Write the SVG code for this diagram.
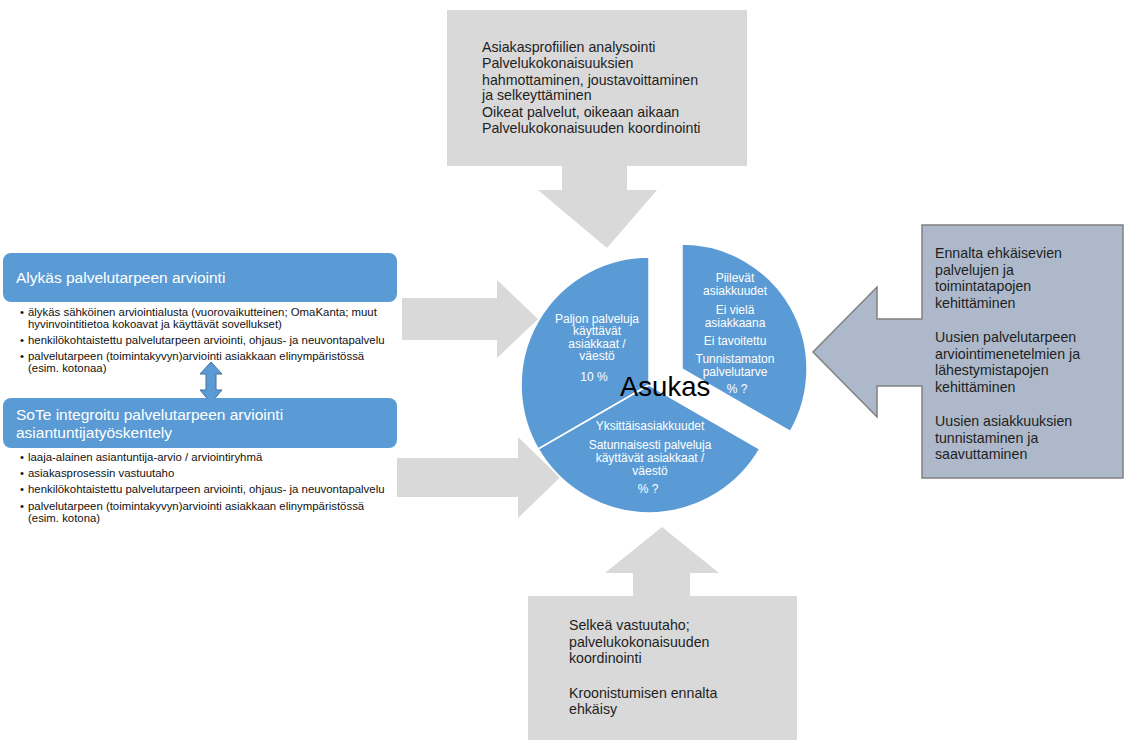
<svg xmlns="http://www.w3.org/2000/svg" width="1124" height="740" viewBox="0 0 1124 740">
<style>
.gray{fill:#D9D9D9}
.blue{fill:#5B9BD5}
.slice{fill:#5B9BD5;stroke:#fff;stroke-width:1.5}
.pt{font-family:"Liberation Sans",Arial,sans-serif;font-size:12px;fill:#fff;text-anchor:middle}
.bt{font-family:"Liberation Sans",Arial,sans-serif;font-size:14.2px;fill:#1e1e1e}
.ht{font-family:"Liberation Sans",Arial,sans-serif;font-size:15.5px;fill:#fff}
.st{font-family:"Liberation Sans",Arial,sans-serif;font-size:11.4px;fill:#111}
</style>
<rect width="1124" height="740" fill="#fff"/>
<g id="connectors">
<path class="gray" d="M402 298 H497 V280 L538 319 L497 358 V340 H402 Z"/>
<path class="gray" d="M397 458 H518 V437 L560 477.5 L518 518 V497 H397 Z"/>
<path d="M211 362 L222 374 H216 V390 H222 L211 403 L200 390 H206 V374 H200 Z" fill="#5B9BD5" stroke="#41719C" stroke-width="1"/>
</g>
<g id="top-box">
<path class="gray" d="M447 10 H747 V166 H627 V190 H657 L607 248 L538 190 H562 V166 H447 Z"/>
<text class="bt"><tspan x="482" y="52">Asiakasprofiilien analysointi</tspan><tspan x="482" y="68">Palvelukokonaisuuksien</tspan><tspan x="482" y="84.5">hahmottaminen, joustavoittaminen</tspan><tspan x="482" y="100">ja selkeyttäminen</tspan><tspan x="482" y="117">Oikeat palvelut, oikeaan aikaan</tspan><tspan x="482" y="133">Palvelukokonaisuuden koordinointi</tspan></text>
</g>
<g id="right-box">
<path d="M922 225 H1123 V478 H922 V386 H877 V417 L813 352 L877 287 V319 H922 Z" fill="#ADB9CA" stroke="#808080" stroke-width="1.5"/>
<text class="bt"><tspan x="935" y="258">Ennalta ehkäisevien</tspan><tspan x="935" y="274.5">palvelujen ja</tspan><tspan x="935" y="291">toimintatapojen</tspan><tspan x="935" y="307.5">kehittäminen</tspan><tspan x="935" y="342">Uusien palvelutarpeen</tspan><tspan x="935" y="358.5">arviointimenetelmien ja</tspan><tspan x="935" y="375">lähestymistapojen</tspan><tspan x="935" y="391.5">kehittäminen</tspan><tspan x="935" y="426">Uusien asiakkuuksien</tspan><tspan x="935" y="442.5">tunnistaminen ja</tspan><tspan x="935" y="459">saavuttaminen</tspan></text>
</g>
<g id="bottom-box">
<path class="gray" d="M528 596 H633 V573 H605 L662 527 L719 573 H690 V596 H797 V740 H528 Z"/>
<text class="bt"><tspan x="569" y="630">Selkeä vastuutaho;</tspan><tspan x="569" y="646.5">palvelukokonaisuuden</tspan><tspan x="569" y="663">koordinointi</tspan><tspan x="569" y="697.5">Kroonistumisen ennalta</tspan><tspan x="569" y="714">ehkäisy</tspan></text>
</g>
<g id="pie">
<path class="slice" d="M649 385 V257 A128 128 0 0 0 538.2 449 Z"/>
<path class="slice" d="M649 385 L538.2 449 A128 128 0 0 0 759.8 449 Z"/>
<path class="slice" d="M682 369 V244 A125 125 0 0 1 790.3 431.5 Z"/>
<text class="pt"><tspan x="597" y="323">Paljon palveluja</tspan><tspan x="597" y="335">käyttävät</tspan><tspan x="597" y="347.5">asiakkaat /</tspan><tspan x="597" y="360">väestö</tspan><tspan x="594" y="381">10 %</tspan></text>
<text class="pt"><tspan x="735" y="282">Piilevät</tspan><tspan x="735" y="295">asiakkuudet</tspan><tspan x="735" y="314">Ei vielä</tspan><tspan x="735" y="327">asiakkaana</tspan><tspan x="735" y="345">Ei tavoitettu</tspan><tspan x="735" y="363">Tunnistamaton</tspan><tspan x="735" y="375.5">palvelutarve</tspan><tspan x="737" y="393">% ?</tspan></text>
<text class="pt"><tspan x="650" y="430">Yksittäisasiakkuudet</tspan><tspan x="650" y="449">Satunnaisesti palveluja</tspan><tspan x="650" y="462">käyttävät asiakkaat /</tspan><tspan x="650" y="475">väestö</tspan><tspan x="648" y="493">% ?</tspan></text>
<text x="620" y="396" font-family="'Liberation Sans',Arial,sans-serif" font-size="27.5px" fill="#000">Asukas</text>
</g>
<g id="box-alykas">
<rect class="blue" x="3" y="253" width="394" height="49" rx="8"/>
<text class="ht" x="16" y="283">Alykäs palvelutarpeen arviointi</text>
<text class="st"><tspan x="20" y="316">•</tspan><tspan x="28" y="316">älykäs sähköinen arviointialusta (vuorovaikutteinen; OmaKanta; muut</tspan><tspan x="28" y="327.5">hyvinvointitietoa kokoavat ja käyttävät sovellukset)</tspan><tspan x="20" y="344">•</tspan><tspan x="28" y="344">henkilökohtaistettu palvelutarpeen arviointi, ohjaus- ja neuvontapalvelu</tspan><tspan x="20" y="360">•</tspan><tspan x="28" y="360">palvelutarpeen (toimintakyvyn)arviointi asiakkaan elinympäristössä</tspan><tspan x="28" y="372">(esim. kotonaa)</tspan></text>
</g>
<g id="box-sote">
<rect class="blue" x="3" y="398" width="394" height="50" rx="8"/>
<text class="ht"><tspan x="16" y="420">SoTe integroitu palvelutarpeen arviointi</tspan><tspan x="16" y="438">asiantuntijatyöskentely</tspan></text>
<text class="st"><tspan x="20" y="461">•</tspan><tspan x="28" y="461">laaja-alainen asiantuntija-arvio / arviointiryhmä</tspan><tspan x="20" y="476.5">•</tspan><tspan x="28" y="476.5">asiakasprosessin vastuutaho</tspan><tspan x="20" y="492.5">•</tspan><tspan x="28" y="492.5">henkilökohtaistettu palvelutarpeen arviointi, ohjaus- ja neuvontapalvelu</tspan><tspan x="20" y="510">•</tspan><tspan x="28" y="510">palvelutarpeen (toimintakyvyn)arviointi asiakkaan elinympäristössä</tspan><tspan x="28" y="522">(esim. kotona)</tspan></text>
</g>
</svg>
